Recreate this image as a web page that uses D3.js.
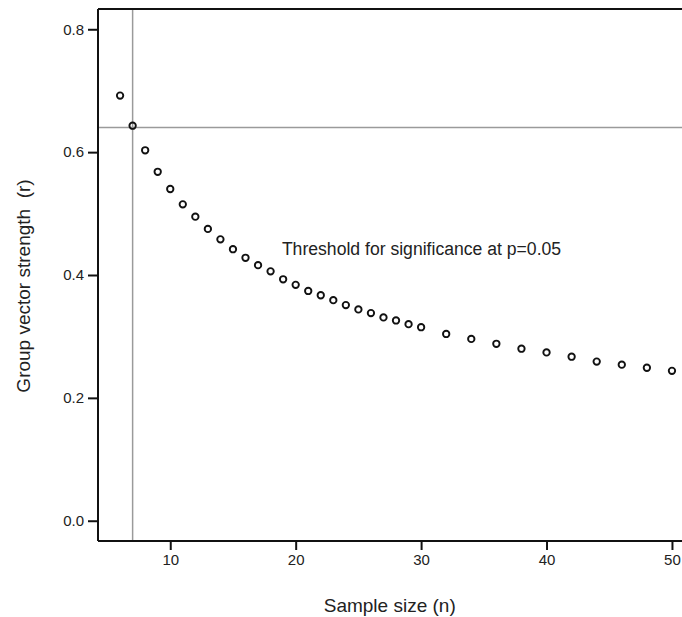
<!DOCTYPE html>
<html>
<head>
<meta charset="utf-8">
<script src="https://cdn.jsdelivr.net/npm/d3@7"></script>
<style>
  body { margin: 0; background: #fff; overflow: hidden; }
  svg text { font-family: "Liberation Sans", Arial, sans-serif; fill: #222; }
</style>
</head>
<body>
<svg id="chart" width="682" height="617"></svg>
<script>
// sample sizes and critical group vector strength
const sampleSize = [6, 7, 8, 9, 10, 11, 12, 13, 14, 15, 16, 17, 18, 19, 20, 21, 22, 23, 24, 25,
  26, 27, 28, 29, 30, 32, 34, 36, 38, 40, 42, 44, 46, 48, 50];
const strength = [0.692, 0.643, 0.603, 0.568, 0.540, 0.515, 0.495, 0.475, 0.458, 0.442, 0.428,
  0.416, 0.406, 0.393, 0.384, 0.374, 0.367, 0.359, 0.351, 0.344, 0.338, 0.331, 0.326, 0.320,
  0.315, 0.304, 0.296, 0.288, 0.280, 0.274, 0.267, 0.259, 0.254, 0.249, 0.244];
const xTicks = [10, 20, 30, 40, 50];
const yTicks = [0.0, 0.2, 0.4, 0.6, 0.8];
const refN = 7;
const refR = 0.640;
const note = "Threshold for significance at p=0.05";

const margin = {top: 9, right: -2, bottom: 76, left: 98},
  svgWidth = 682,
  svgHeight = 617,
  width = svgWidth - margin.left - margin.right,
  height = svgHeight - margin.top - margin.bottom;

const svg = d3.select("#chart"),
  g = svg.append("g").attr("transform", "translate(" + margin.left + "," + margin.top + ")");

const x = d3.scaleLinear().domain([4.24, 50.96]).range([0, width]);
const y = d3.scaleLinear().domain([-0.033, 0.833]).range([height, 0]);

// reference lines
g.append("line")
    .attr("x1", x(refN)).attr("x2", x(refN))
    .attr("y1", 0).attr("y2", height)
    .attr("stroke", "#9a9a9a").attr("stroke-width", 1.5);
g.append("line")
    .attr("x1", 0).attr("x2", width)
    .attr("y1", y(refR)).attr("y2", y(refR))
    .attr("stroke", "#9a9a9a").attr("stroke-width", 1.5);

// frame top
g.append("line")
    .attr("x1", 0).attr("x2", width)
    .attr("y1", 0).attr("y2", 0)
    .attr("stroke", "#111").attr("stroke-width", 2);

const xAxis = g.append("g")
    .attr("transform", "translate(0," + height + ")")
    .call(d3.axisBottom(x).tickValues(xTicks).tickSize(9).tickPadding(4).tickSizeOuter(0));
const yAxis = g.append("g")
    .call(d3.axisLeft(y).tickValues(yTicks).tickFormat(d3.format(".1f")).tickSize(10).tickPadding(4).tickSizeOuter(0));

[xAxis, yAxis].forEach(function(a) {
  a.select(".domain").attr("stroke", "#111").attr("stroke-width", 2);
  a.selectAll(".tick line").attr("stroke", "#111").attr("stroke-width", 2);
  a.selectAll(".tick text").attr("font-size", 15).attr("fill", "#222");
});
yAxis.select(".domain").attr("d", "M0,0V" + height);
xAxis.select(".domain").attr("d", "M0,0H" + width);

g.append("g")
  .selectAll("circle")
  .data(sampleSize)
  .enter().append("circle")
    .attr("cx", function(d) { return x(d); })
    .attr("cy", function(d, i) { return y(strength[i]); })
    .attr("r", 3.2)
    .attr("fill", "none")
    .attr("stroke", "#111")
    .attr("stroke-width", 1.9);

g.append("text")
    .attr("x", x(18.9))
    .attr("y", y(0.432))
    .attr("font-size", 17.6)
    .text(note);

svg.append("text")
    .attr("x", margin.left + x(27.5))
    .attr("y", 612)
    .attr("text-anchor", "middle")
    .attr("font-size", 19)
    .text("Sample size (n)");

svg.append("text")
    .attr("transform", "translate(30," + 286 + ") rotate(-90)")
    .attr("text-anchor", "middle")
    .attr("font-size", 19)
    .attr("xml:space", "preserve")
    .text("Group vector strength  (r)");
</script>
</body>
</html>
